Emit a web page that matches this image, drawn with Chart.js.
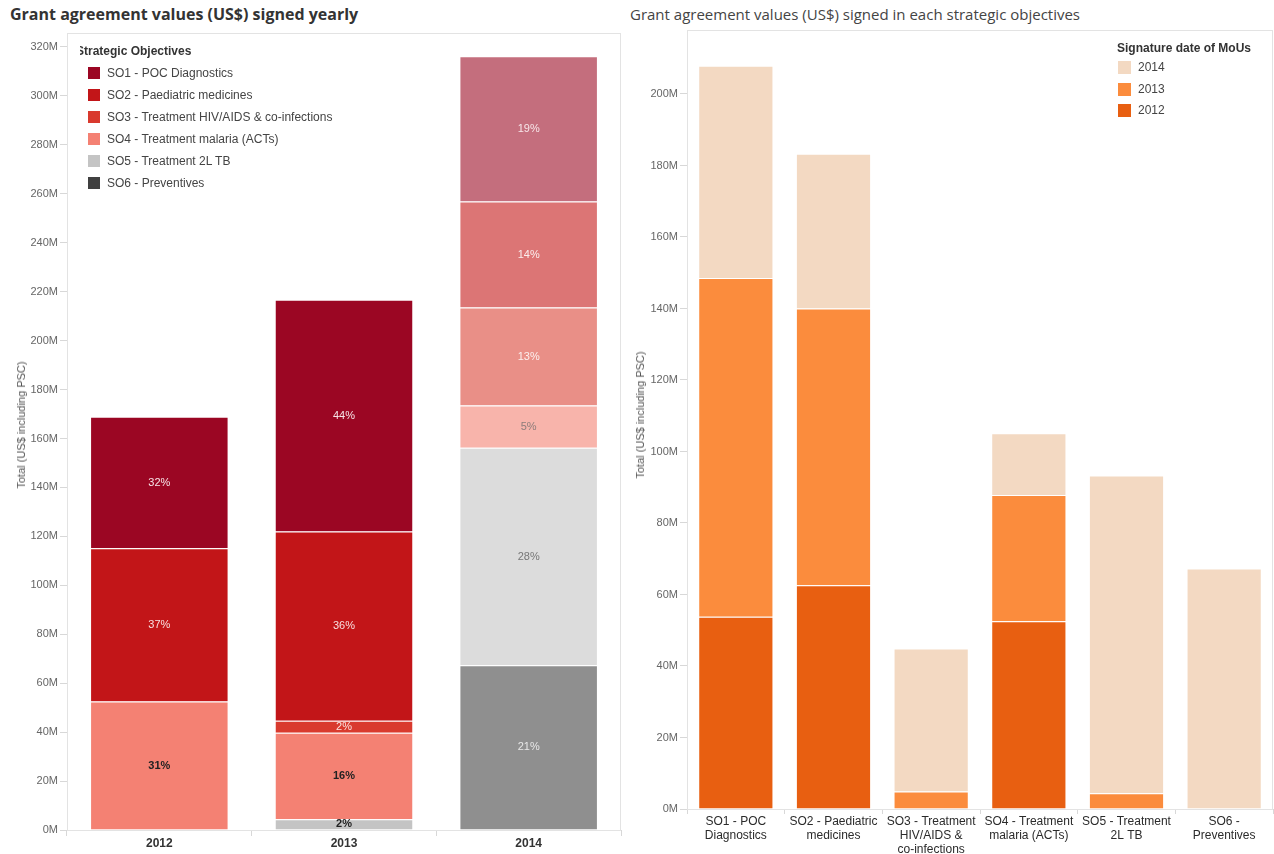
<!DOCTYPE html>
<html>
<head>
<meta charset="utf-8">
<script src="https://cdn.jsdelivr.net/npm/chart.js@4.4.1/dist/chart.umd.min.js"></script>
<style>
  body { margin: 0; width: 1274px; height: 854px; overflow: hidden; background: #fff; position: relative; font-family: "Liberation Sans", Arial, sans-serif; }
  .title { position: absolute; top: 3px; white-space: nowrap; font-family: "Open Sans", sans-serif; }
  #leftTitle { left: 10px; font-size: 16px; font-weight: 700; color: #333; }
  #rightTitle { left: 630px; top: 4px; font-size: 15px; color: #444; }
  .wrap { position: absolute; top: 0; height: 854px; }
  #leftWrap { left: 0; width: 622px; }
  #rightWrap { left: 622px; width: 652px; }
  .ytitle { position: absolute; font-size: 11px; color: #555; white-space: nowrap; transform: translate(-50%, -50%) rotate(-90deg); }
  .legend { position: absolute; font-size: 12px; color: #444; }
  .legend .head { font-weight: bold; color: #333; height: 18px; line-height: 18px; white-space: nowrap; }
  .legend .item { height: 22px; line-height: 22px; white-space: nowrap; display: flex; align-items: center; }
  .legend .sw { width: 12px; height: 12px; margin-right: 7px; flex: none; }
  #leftLegend { left: 80px; top: 42px; width: 260px; overflow: hidden; }
  #leftLegend .head { margin-left: -4px; margin-bottom: 2px; }
  #leftLegend .item { padding-left: 8px; }
  #rightLegend { left: 1117px; top: 39px; }
  #rightLegend .item { height: 21.5px; line-height: 21.5px; }
  #rightLegend .sw { width: 13px; height: 13px; margin-left: 1px; margin-right: 7px; }
</style>
</head>
<body>
<div class="title" id="leftTitle">Grant agreement values (US$) signed yearly</div>
<div class="title" id="rightTitle">Grant agreement values (US$) signed in each strategic objectives</div>
<div class="wrap" id="leftWrap"><canvas id="yearChart"></canvas></div>
<div class="wrap" id="rightWrap"><canvas id="objChart"></canvas></div>
<div class="ytitle" style="left:21px; top:425px;">Total (US$ including PSC)</div>
<div class="ytitle" style="left:640px; top:415px;">Total (US$ including PSC)</div>
<div class="legend" id="leftLegend"></div>
<div class="legend" id="rightLegend"></div>
<script>
// values in millions of US$, one array per strategic objective, ordered 2012, 2013, 2014
const years = ['2012', '2013', '2014'];
const objectives = [
  'SO1 - POC Diagnostics',
  'SO2 - Paediatric medicines',
  'SO3 - Treatment HIV/AIDS & co-infections',
  'SO4 - Treatment malaria (ACTs)',
  'SO5 - Treatment 2L TB',
  'SO6 - Preventives'
];
const objectiveAxisLabels = [
  ['SO1 - POC', 'Diagnostics'],
  ['SO2 - Paediatric', 'medicines'],
  ['SO3 - Treatment', 'HIV/AIDS &', 'co-infections'],
  ['SO4 - Treatment', 'malaria (ACTs)'],
  ['SO5 - Treatment', '2L TB'],
  ['SO6 -', 'Preventives']
];
const so1 = [53.8, 94.7, 59.4];
const so2 = [62.6, 77.4, 43.3];
const so3 = [0, 4.9, 40.0];
const so4 = [52.5, 35.3, 17.3];
const so5 = [0, 4.4, 88.9];
const so6 = [0, 0, 67.3];
const bySO = [so1, so2, so3, so4, so5, so6];

// per-year bar colours for each objective (2014 bars are shown faded)
const soColors = [
  ['#9b0623', '#9b0623', '#c46e7d'],
  ['#c21518', '#c21518', '#dc7575'],
  ['#d93a2e', '#d93a2e', '#e98f87'],
  ['#f48173', '#f48173', '#f8b4ab'],
  ['#c4c4c4', '#c4c4c4', '#dcdcdc'],
  ['#404040', '#404040', '#8f8f8f']
];
const soLegendColors = ['#9b0623', '#c21518', '#d93a2e', '#f48173', '#c4c4c4', '#404040'];
const soTextColors = [
  ['#f6e4e7', '#f6e4e7', '#f7e6e9'],
  ['#f8e0e0', '#f8e0e0', '#fbeeee'],
  ['#fbe3e0', '#fbe3e0', '#fcf0ee'],
  ['#222', '#222', '#8c7c7a'],
  ['#222', '#222', '#777'],
  ['#eee', '#eee', '#e8e8e8']
];
const yearColors = { '2012': '#e85f11', '2013': '#fb8c3d', '2014': '#f3d9c2' };

const axisFont = { family: '"Liberation Sans", Arial, sans-serif', size: 11 };

// light frame round the plot area
const plotFrame = {
  id: 'plotFrame',
  beforeDatasetsDraw(chart) {
    const { ctx, chartArea: a } = chart;
    ctx.save();
    ctx.strokeStyle = '#e3e3e3';
    ctx.lineWidth = 1;
    ctx.strokeRect(a.left + 0.5, a.top + 0.5, a.right - a.left - 1, a.bottom - a.top);
    ctx.restore();
  }
};

// share of each segment in its year's total, written in the middle of the segment
const pctLabels = {
  id: 'pctLabels',
  afterDatasetsDraw(chart) {
    const { ctx } = chart;
    const dsets = chart.data.datasets;
    const totals = chart.data.labels.map((_, i) => dsets.reduce((s, d) => s + d.data[i], 0));
    ctx.save();
    ctx.textAlign = 'center';
    ctx.textBaseline = 'middle';
    dsets.forEach((ds, di) => {
      chart.getDatasetMeta(di).data.forEach((bar, i) => {
        const v = ds.data[i];
        if (!v) return;
        const dark = ds.textColors[i] === '#222';
        ctx.font = (dark ? 'bold ' : '') + '11px "Liberation Sans", Arial, sans-serif';
        ctx.fillStyle = ds.textColors[i];
        ctx.fillText(Math.round(v / totals[i] * 100) + '%', bar.x, (bar.y + bar.base) / 2);
      });
    });
    ctx.restore();
  }
};

// stack order bottom to top: SO6 ... SO1
const yearDatasets = bySO.map((vals, k) => ({
  label: objectives[k],
  data: vals,
  backgroundColor: soColors[k],
  textColors: soTextColors[k],
  borderColor: '#ffffff',
  borderWidth: 1
})).reverse();

new Chart(document.getElementById('yearChart'), {
  type: 'bar',
  data: { labels: years, datasets: yearDatasets },
  options: {
    responsive: true,
    maintainAspectRatio: false,
    animation: false,
    categoryPercentage: 1,
    barPercentage: 0.75,
    layout: { padding: { top: 33, right: 1, left: 0, bottom: 0 } },
    plugins: { legend: { display: false }, tooltip: { enabled: false } },
    scales: {
      x: {
        stacked: true,
        grid: { drawOnChartArea: false, tickLength: 6, color: '#d8d8d8', offset: true },
        border: { color: '#d8d8d8' },
        ticks: { font: { family: axisFont.family, size: 12, weight: 'bold' }, color: '#333', padding: 0 },
        afterFit(s) { s.height = 24; }
      },
      y: {
        stacked: true,
        min: 0,
        max: 325.7,
        grid: { drawOnChartArea: false, tickLength: 7, color: '#d8d8d8' },
        border: { color: '#d8d8d8' },
        ticks: { stepSize: 20, includeBounds: false, font: axisFont, color: '#666', padding: 2, callback: v => v + 'M' },
        afterFit(s) { s.width = 67; }
      }
    }
  },
  plugins: [plotFrame, pctLabels]
});

// same values regrouped by objective, stacked 2012 (bottom) to 2014 (top)
const objDatasets = years.map((yr, j) => ({
  label: yr,
  data: bySO.map(vals => vals[j]),
  backgroundColor: yearColors[yr],
  borderColor: '#ffffff',
  borderWidth: 1
}));

new Chart(document.getElementById('objChart'), {
  type: 'bar',
  data: { labels: objectiveAxisLabels, datasets: objDatasets },
  options: {
    responsive: true,
    maintainAspectRatio: false,
    animation: false,
    categoryPercentage: 1,
    barPercentage: 0.77,
    layout: { padding: { top: 30, right: 1, left: 0, bottom: 0 } },
    plugins: { legend: { display: false }, tooltip: { enabled: false } },
    scales: {
      x: {
        stacked: true,
        grid: { drawOnChartArea: false, tickLength: 5, color: '#d8d8d8', offset: true },
        border: { color: '#d8d8d8' },
        ticks: { font: { family: axisFont.family, size: 12 }, color: '#2b2b2b', padding: 0, maxRotation: 0, autoSkip: false },
        afterFit(s) { s.height = 45; }
      },
      y: {
        stacked: true,
        min: 0,
        max: 217.9,
        grid: { drawOnChartArea: false, tickLength: 7, color: '#d8d8d8' },
        border: { color: '#d8d8d8' },
        ticks: { stepSize: 20, includeBounds: false, font: axisFont, color: '#666', padding: 2, callback: v => v + 'M' },
        afterFit(s) { s.width = 65; }
      }
    }
  },
  plugins: [plotFrame]
});

// legends
function buildLegend(el, head, names, colors) {
  let html = '<div class="head">' + head + '</div>';
  names.forEach((n, i) => {
    html += '<div class="item"><span class="sw" style="background:' + colors[i] + '"></span>' +
      n.replace(/&/g, '&amp;') + '</div>';
  });
  el.innerHTML = html;
}
buildLegend(document.getElementById('leftLegend'), 'Strategic Objectives', objectives, soLegendColors);
const legendYears = years.slice().reverse();
buildLegend(document.getElementById('rightLegend'), 'Signature date of MoUs', legendYears, legendYears.map(y => yearColors[y]));
</script>
</body>
</html>
